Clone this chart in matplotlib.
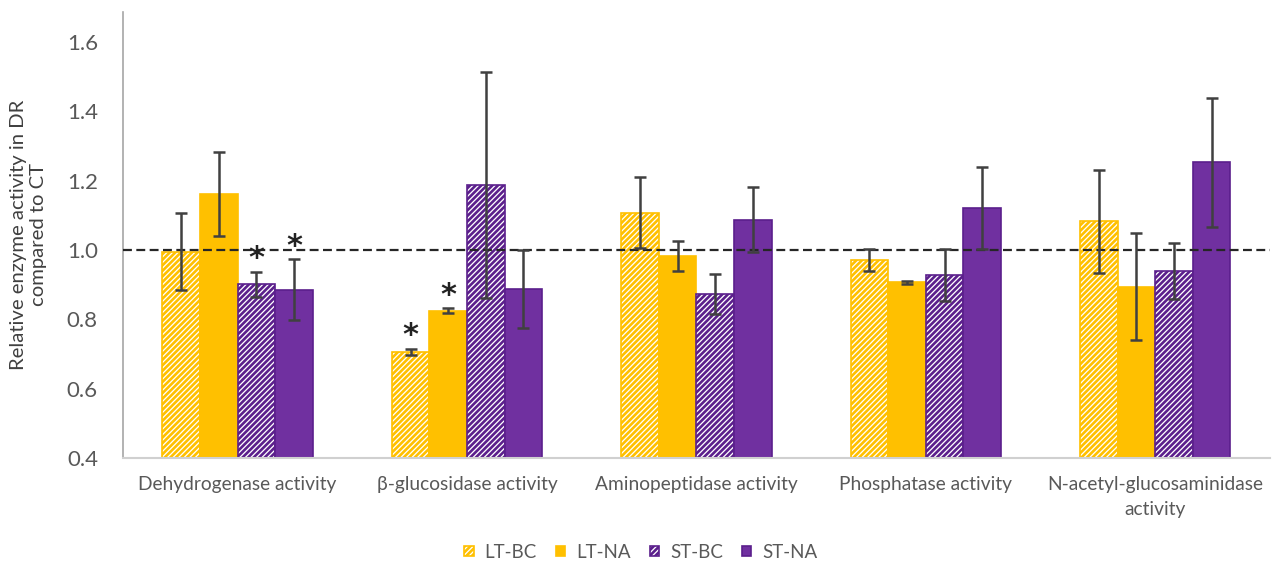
import matplotlib
matplotlib.use("Agg")
import matplotlib.pyplot as plt
import numpy as np

categories = ["Dehydrogenase activity", "β-glucosidase activity", "Aminopeptidase activity",
              "Phosphatase activity", "N-acetyl-glucosaminidase\nactivity"]
series = ["LT-BC", "LT-NA", "ST-BC", "ST-NA"]
lt_bc = [0.995, 0.705, 1.107, 0.971, 1.082]
lt_na = [1.161, 0.825, 0.983, 0.906, 0.894]
st_bc = [0.901, 1.187, 0.873, 0.928, 0.939]
st_na = [0.885, 0.887, 1.087, 1.120, 1.252]
lt_bc_err = [0.110, 0.009, 0.102, 0.033, 0.148]
lt_na_err = [0.120, 0.007, 0.043, 0.003, 0.155]
st_bc_err = [0.036, 0.325, 0.058, 0.075, 0.082]
st_na_err = [0.088, 0.113, 0.093, 0.118, 0.187]
# significance markers (series index, category index)
signif = [(2, 0), (3, 0), (0, 1), (1, 1)]

plt.rcParams['font.family'] = ['Lato', 'DejaVu Sans']
plt.rcParams['hatch.linewidth'] = 1.9

orange = "#FFC000"
purple = "#7030A0"
purple_edge = "#5B1F8C"
colors = [orange, orange, purple, purple]
edges = [orange, orange, purple_edge, purple_edge]
hatched = [True, False, True, False]
values = [lt_bc, lt_na, st_bc, st_na]
errs = [lt_bc_err, lt_na_err, st_bc_err, st_na_err]

fig = plt.figure(figsize=(12.82, 5.68), dpi=100)
ax = fig.add_axes([0.0959, 0.1937, 0.8947, 0.7852])

x = np.arange(len(categories))
w = 0.164
offsets = (np.arange(4) - 1.5) * w
for i in range(4):
    if hatched[i]:
        ax.bar(x + offsets[i], np.array(values[i]) - 0.4, w, bottom=0.4, facecolor="white",
               edgecolor=edges[i], hatch="//////", linewidth=1.2, label=series[i], zorder=2)
    else:
        ax.bar(x + offsets[i], np.array(values[i]) - 0.4, w, bottom=0.4, facecolor=colors[i],
               edgecolor=edges[i], linewidth=1.2, label=series[i], zorder=2)
    ax.errorbar(x + offsets[i], values[i], yerr=errs[i], fmt="none", ecolor="#404040",
                elinewidth=1.8, capsize=4, capthick=1.8, zorder=4)

for s, c in signif:
    top = values[s][c] + errs[s][c]
    ax.text(x[c] + offsets[s], top - 0.004, "*", ha="center", va="bottom",
            fontsize=22, fontweight="bold", color="#222222", family="DejaVu Sans", zorder=5)

ax.axhline(1.0, color="#262626", linestyle=(0, (4, 2)), linewidth=1.6, zorder=3)

ax.set_xlim(-0.5, 4.5)
ax.set_ylim(0.4, 1.686)
ax.set_yticks([0.4, 0.6, 0.8, 1.0, 1.2, 1.4, 1.6])
ax.set_yticklabels(["0.4", "0.6", "0.8", "1.0", "1.2", "1.4", "1.6"])
ax.set_xticks(x)
ax.set_xticklabels(categories, linespacing=1.55)
ax.tick_params(axis="both", length=0, colors="#595959")
ax.tick_params(axis="x", pad=13, labelsize=13.8)
ax.tick_params(axis="y", pad=18, labelsize=16)
for side in ["top", "right"]:
    ax.spines[side].set_visible(False)
ax.spines["left"].set_color("#A6A6A6")
ax.spines["bottom"].set_color("#D0D0D0")
ax.spines["left"].set_linewidth(1.2)
ax.spines["bottom"].set_linewidth(1.5)

ax.set_ylabel("Relative enzyme activity in DR\ncompared to CT", fontsize=14.6, color="#404040",
              linespacing=1.25, labelpad=14)

leg = ax.legend(loc="center", ncol=4, frameon=False, fontsize=13.5, handlelength=0.5,
                handleheight=0.5, handletextpad=0.6, columnspacing=1.0, labelcolor="#595959")
leg.set_bbox_to_anchor((0.5, 1 - 552 / 568), transform=fig.transFigure)

fig.savefig("out.png", dpi=100)
